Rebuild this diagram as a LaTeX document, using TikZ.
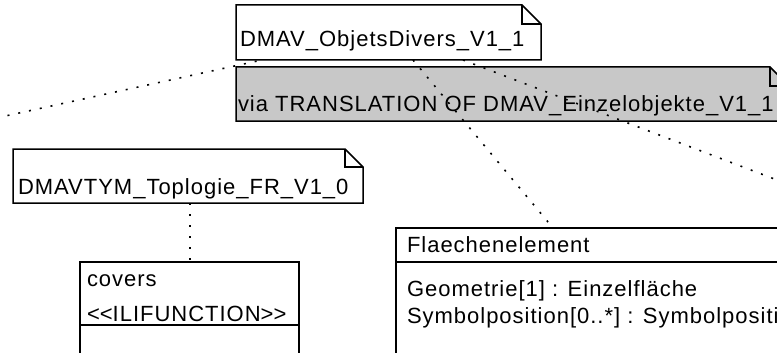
\documentclass[tikz,border=0pt]{standalone}
\usepackage{fontspec}
\setmainfont{Liberation Sans}[LetterSpace=4.5]
\definecolor{notegray}{RGB}{200,200,200}
\tikzset{
  box/.style={draw=none, inner sep=0pt, outer sep=0pt, anchor=north west},
  lbl/.style={inner sep=0pt, outer sep=0pt, anchor=base west, font=\fontsize{22}{26}\selectfont},
  outline/.style={line width=1.5pt, draw=black},
  dotline/.style={line width=1.6pt, dash pattern=on 2pt off 9pt, black},
}
\begin{document}
\begin{tikzpicture}[x=1pt,y=-1pt]
\useasboundingbox (0,0) rectangle (777,353);
\clip (0,0) rectangle (777,353);
% note DMAV_ObjetsDivers_V1_1
\node[box, minimum width=305pt, minimum height=55pt] (n1) at (236,5) {};
\draw[outline, fill=white] (n1.north west) -- ([xshift=-19pt]n1.north east) -- ([yshift=-19pt]n1.north east) -- (n1.south east) -- (n1.south west) -- cycle;
\draw[outline] ([xshift=-19pt]n1.north east) |- ([yshift=-19pt]n1.north east);
\node[lbl] (n1t) at (240,47) {DMAV\_ObjetsDivers\_V1\_1};
% gray note
\node[box, minimum width=553pt, minimum height=54pt] (n2) at (236,67) {};
\draw[outline, fill=notegray] (n2.north west) -- ([xshift=-19pt]n2.north east) -- ([yshift=-19pt]n2.north east) -- (n2.south east) -- (n2.south west) -- cycle;
\draw[outline] ([xshift=-19pt]n2.north east) |- ([yshift=-19pt]n2.north east);
\node[lbl] (n2t) at (238,111) {via TRANSLATION OF DMAV\_Einzelobjekte\_V1\_1};
% note DMAVTYM_Toplogie_FR_V1_0
\node[box, minimum width=350pt, minimum height=54pt] (n3) at (13,149) {};
\draw[outline, fill=white] (n3.north west) -- ([xshift=-18pt]n3.north east) -- ([yshift=-18pt]n3.north east) -- (n3.south east) -- (n3.south west) -- cycle;
\draw[outline] ([xshift=-18pt]n3.north east) |- ([yshift=-18pt]n3.north east);
\node[lbl] (n3t) at (18,194) {DMAVTYM\_Toplogie\_FR\_V1\_0};
% class covers
\node[box, outline, fill=white, minimum width=219pt, minimum height=200pt] (cv) at (80,262) {};
\draw[outline] ([yshift=-63pt]cv.north west) -- ([yshift=-63pt]cv.north east);
\node[lbl] (cvt) at (87,286) {covers};
\node[lbl] (cvs) at (87,321) {\mbox{<}\mbox{<}ILIFUNCTION\mbox{>}\mbox{>}};
% class Flaechenelement
\node[box, outline, fill=white, minimum width=500pt, minimum height=200pt] (fe) at (396,228) {};
\draw[outline] ([yshift=-34pt]fe.north west) -- ([yshift=-34pt]fe.north east);
\node[lbl] (fet) at (407,252) {Flaechenelement};
\node[lbl] (fea1) at (407,296) {Geometrie[1] : Einzelfläche};
\node[lbl] (fea2) at (407,323) {Symbolposition[0..*] : Symbolposition};
% free ends
\coordinate (offL) at (-100,139);
\coordinate (offR) at (900,227);
% connectors
\draw[dotline] (offL) -- ([xshift=26pt]n1.south west);
\draw[dotline] ([xshift=177pt]n1.south west) -- ([xshift=157pt]fe.north west);
\draw[dotline] ([xshift=227pt]n1.south west) -- (offR);
\draw[dotline] ([xshift=177pt]n3.south west) -- ([xshift=110pt]cv.north west);
\end{tikzpicture}
\end{document}
